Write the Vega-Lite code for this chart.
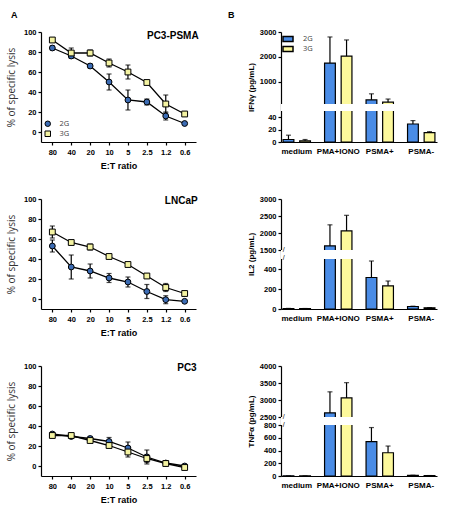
{
  "$schema": "https://vega.github.io/schema/vega-lite/v6.json",
  "background": "white",
  "padding": {"left": 6, "top": 11, "right": 5, "bottom": 5},
  "config": {
    "view": {"stroke": null},
    "font": "Liberation Sans",
    "axis": {
      "grid": false,
      "tickCount": 20,
      "labelOverlap": false,
      "domainColor": "#000",
      "domainWidth": 1.2,
      "tickColor": "#000",
      "tickWidth": 1.2,
      "tickSize": 3,
      "labelFont": "Liberation Sans",
      "labelFontWeight": "bold",
      "labelFontSize": 7.5,
      "labelColor": "#000",
      "titleFont": "Liberation Sans",
      "titleFontWeight": "bold",
      "titleColor": "#000"
    },
    "legend": {
      "title": null,
      "labelFont": "Open Sans",
      "labelFontSize": 8,
      "labelColor": "#444",
      "padding": 0
    },
    "title": {"font": "Liberation Sans", "fontWeight": "bold", "fontSize": 9, "color": "#000"}
  },
  "datasets": {
    "lysis": [
      {"cell": "PC3-PSMA", "et": "80", "g": "2G", "v": 84, "lo": 82, "hi": 86},
      {"cell": "PC3-PSMA", "et": "40", "g": "2G", "v": 76, "lo": 74, "hi": 78},
      {"cell": "PC3-PSMA", "et": "20", "g": "2G", "v": 66, "lo": 64, "hi": 68},
      {"cell": "PC3-PSMA", "et": "10", "g": "2G", "v": 50, "lo": 42, "hi": 58},
      {"cell": "PC3-PSMA", "et": "5", "g": "2G", "v": 32, "lo": 22, "hi": 42},
      {"cell": "PC3-PSMA", "et": "2.5", "g": "2G", "v": 30, "lo": 27, "hi": 33},
      {"cell": "PC3-PSMA", "et": "1.2", "g": "2G", "v": 16, "lo": 12, "hi": 20},
      {"cell": "PC3-PSMA", "et": "0.6", "g": "2G", "v": 8.5, "lo": 7.5, "hi": 9.5},
      {"cell": "PC3-PSMA", "et": "80", "g": "3G", "v": 92, "lo": 90, "hi": 94},
      {"cell": "PC3-PSMA", "et": "40", "g": "3G", "v": 79, "lo": 74, "hi": 84},
      {"cell": "PC3-PSMA", "et": "20", "g": "3G", "v": 79, "lo": 76, "hi": 82},
      {"cell": "PC3-PSMA", "et": "10", "g": "3G", "v": 69, "lo": 65, "hi": 73},
      {"cell": "PC3-PSMA", "et": "5", "g": "3G", "v": 60, "lo": 53, "hi": 67},
      {"cell": "PC3-PSMA", "et": "2.5", "g": "3G", "v": 49.5, "lo": 48.5, "hi": 50.5},
      {"cell": "PC3-PSMA", "et": "1.2", "g": "3G", "v": 28, "lo": 19, "hi": 37},
      {"cell": "PC3-PSMA", "et": "0.6", "g": "3G", "v": 18, "lo": 17, "hi": 19},
      {"cell": "LNCaP", "et": "80", "g": "2G", "v": 53, "lo": 47, "hi": 59},
      {"cell": "LNCaP", "et": "40", "g": "2G", "v": 32, "lo": 20, "hi": 44},
      {"cell": "LNCaP", "et": "20", "g": "2G", "v": 28, "lo": 21, "hi": 35},
      {"cell": "LNCaP", "et": "10", "g": "2G", "v": 21, "lo": 16.5, "hi": 25.5},
      {"cell": "LNCaP", "et": "5", "g": "2G", "v": 17, "lo": 12, "hi": 22},
      {"cell": "LNCaP", "et": "2.5", "g": "2G", "v": 7.5, "lo": 0.5, "hi": 14.5},
      {"cell": "LNCaP", "et": "1.2", "g": "2G", "v": -0.7, "lo": -4.7, "hi": 3.3},
      {"cell": "LNCaP", "et": "0.6", "g": "2G", "v": -2.3, "lo": -3.3, "hi": -1.3},
      {"cell": "LNCaP", "et": "80", "g": "3G", "v": 67, "lo": 61, "hi": 73},
      {"cell": "LNCaP", "et": "40", "g": "3G", "v": 56.5, "lo": 54.5, "hi": 58.5},
      {"cell": "LNCaP", "et": "20", "g": "3G", "v": 52, "lo": 49, "hi": 55},
      {"cell": "LNCaP", "et": "10", "g": "3G", "v": 42.5, "lo": 41, "hi": 44},
      {"cell": "LNCaP", "et": "5", "g": "3G", "v": 34.5, "lo": 33.5, "hi": 35.5},
      {"cell": "LNCaP", "et": "2.5", "g": "3G", "v": 23, "lo": 21, "hi": 25},
      {"cell": "LNCaP", "et": "1.2", "g": "3G", "v": 11.5, "lo": 7.5, "hi": 15.5},
      {"cell": "LNCaP", "et": "0.6", "g": "3G", "v": 5.5, "lo": 4.5, "hi": 6.5},
      {"cell": "PC3", "et": "80", "g": "2G", "v": 32, "lo": 31, "hi": 33},
      {"cell": "PC3", "et": "40", "g": "2G", "v": 29.5, "lo": 28.5, "hi": 30.5},
      {"cell": "PC3", "et": "20", "g": "2G", "v": 27.5, "lo": 25.5, "hi": 29.5},
      {"cell": "PC3", "et": "10", "g": "2G", "v": 24.5, "lo": 20.5, "hi": 28.5},
      {"cell": "PC3", "et": "5", "g": "2G", "v": 18, "lo": 12, "hi": 24},
      {"cell": "PC3", "et": "2.5", "g": "2G", "v": 9, "lo": 2, "hi": 16},
      {"cell": "PC3", "et": "1.2", "g": "2G", "v": 3, "lo": 1, "hi": 5},
      {"cell": "PC3", "et": "0.6", "g": "2G", "v": 0, "lo": -1, "hi": 1},
      {"cell": "PC3", "et": "80", "g": "3G", "v": 30.5, "lo": 29.5, "hi": 31.5},
      {"cell": "PC3", "et": "40", "g": "3G", "v": 30.5, "lo": 29.5, "hi": 31.5},
      {"cell": "PC3", "et": "20", "g": "3G", "v": 25.5, "lo": 24.5, "hi": 26.5},
      {"cell": "PC3", "et": "10", "g": "3G", "v": 20.5, "lo": 18.5, "hi": 22.5},
      {"cell": "PC3", "et": "5", "g": "3G", "v": 14, "lo": 9, "hi": 19},
      {"cell": "PC3", "et": "2.5", "g": "3G", "v": 7.5, "lo": 3.5, "hi": 11.5},
      {"cell": "PC3", "et": "1.2", "g": "3G", "v": 2.5, "lo": 1.5, "hi": 3.5},
      {"cell": "PC3", "et": "0.6", "g": "3G", "v": -1.5, "lo": -2.5, "hi": -0.5}
    ],
    "cyto": [
      {"k": "IFN", "c": "medium", "g": "2G", "v": 4, "hi": 11},
      {"k": "IFN", "c": "medium", "g": "3G", "v": 2, "hi": 4},
      {"k": "IFN", "c": "PMA+IONO", "g": "2G", "v": 1750, "hi": 2800},
      {"k": "IFN", "c": "PMA+IONO", "g": "3G", "v": 2030, "hi": 2680},
      {"k": "IFN", "c": "PSMA+", "g": "2G", "v": 265, "hi": 510},
      {"k": "IFN", "c": "PSMA+", "g": "3G", "v": 175, "hi": 300},
      {"k": "IFN", "c": "PSMA-", "g": "2G", "v": 29, "hi": 34.5},
      {"k": "IFN", "c": "PSMA-", "g": "3G", "v": 15, "hi": 16.7},
      {"k": "IL2", "c": "medium", "g": "2G", "v": 5, "hi": 6},
      {"k": "IL2", "c": "medium", "g": "3G", "v": 4, "hi": 5},
      {"k": "IL2", "c": "PMA+IONO", "g": "2G", "v": 1620, "hi": 2240},
      {"k": "IL2", "c": "PMA+IONO", "g": "3G", "v": 2060, "hi": 2520},
      {"k": "IL2", "c": "PSMA+", "g": "2G", "v": 315, "hi": 480},
      {"k": "IL2", "c": "PSMA+", "g": "3G", "v": 232, "hi": 280},
      {"k": "IL2", "c": "PSMA-", "g": "2G", "v": 25, "hi": 28},
      {"k": "IL2", "c": "PSMA-", "g": "3G", "v": 12, "hi": 14},
      {"k": "TNF", "c": "medium", "g": "2G", "v": 2, "hi": 2},
      {"k": "TNF", "c": "medium", "g": "3G", "v": 2, "hi": 2},
      {"k": "TNF", "c": "PMA+IONO", "g": "2G", "v": 2620, "hi": 3240},
      {"k": "TNF", "c": "PMA+IONO", "g": "3G", "v": 3060, "hi": 3510},
      {"k": "TNF", "c": "PSMA+", "g": "2G", "v": 540, "hi": 760},
      {"k": "TNF", "c": "PSMA+", "g": "3G", "v": 365, "hi": 470},
      {"k": "TNF", "c": "PSMA-", "g": "2G", "v": 10, "hi": 12},
      {"k": "TNF", "c": "PSMA-", "g": "3G", "v": 6, "hi": 7}
    ]
  },
  "columns": 2,
  "bounds": "flush",
  "spacing": {"row": 57, "column": 85},
  "resolve": {
    "scale": {"fill": "independent", "shape": "independent", "xOffset": "independent"},
    "legend": {"fill": "independent", "shape": "independent"}
  },
  "concat": [
    {
      "title": {"text": "A", "anchor": "start", "frame": "group", "dx": -30, "offset": 8},
      "width": 155,
      "height": 110,
      "data": {"name": "lysis"},
      "transform": [{"filter": "datum.cell === 'PC3-PSMA'"}],
      "layer": [
        {
          "mark": {"type": "rule", "color": "#000", "strokeWidth": 1.2},
          "encoding": {
            "x": {"field": "et", "type": "ordinal", "sort": ["80", "40", "20", "10", "5", "2.5", "1.2", "0.6"], "scale": {"type": "point", "padding": 0.6}, "axis": {"title": "E:T ratio", "labelAngle": 0, "labelPadding": 3, "titleFontSize": 9, "titlePadding": 6}},
            "y": {"field": "lo", "type": "quantitative", "scale": {"domain": [-10, 100], "nice": false, "zero": false}, "axis": {"values": [0, 20, 40, 60, 80, 100], "title": "% of specific lysis", "titleFont": "Open Sans", "titleFontWeight": "normal", "titleFontSize": 10, "titleColor": "#333", "titlePadding": 7}},
            "y2": {"field": "hi"},
            "detail": {"field": "g"}
          }
        },
        {
          "mark": {"type": "tick", "orient": "horizontal", "size": 5, "thickness": 1.2, "color": "#000"},
          "encoding": {"x": {"field": "et", "type": "ordinal", "sort": ["80", "40", "20", "10", "5", "2.5", "1.2", "0.6"]}, "y": {"field": "lo", "type": "quantitative"}}
        },
        {
          "mark": {"type": "tick", "orient": "horizontal", "size": 5, "thickness": 1.2, "color": "#000"},
          "encoding": {"x": {"field": "et", "type": "ordinal", "sort": ["80", "40", "20", "10", "5", "2.5", "1.2", "0.6"]}, "y": {"field": "hi", "type": "quantitative"}}
        },
        {
          "mark": {"type": "line", "color": "#000", "strokeWidth": 1.3},
          "encoding": {"x": {"field": "et", "type": "ordinal", "sort": ["80", "40", "20", "10", "5", "2.5", "1.2", "0.6"]}, "y": {"field": "v", "type": "quantitative"}, "detail": {"field": "g"}}
        },
        {
          "mark": {"type": "point", "filled": true, "opacity": 1, "stroke": "#000", "strokeWidth": 1},
          "encoding": {
            "x": {"field": "et", "type": "ordinal", "sort": ["80", "40", "20", "10", "5", "2.5", "1.2", "0.6"]},
            "y": {"field": "v", "type": "quantitative"},
            "fill": {
              "field": "g", "type": "nominal",
              "scale": {"domain": ["2G", "3G"], "range": ["#3c6cb4", "#f4f3a2"]},
              "legend": {
                "orient": "bottom-left", "offset": 3, "symbolSize": 30, "rowPadding": 0, "labelOffset": 8, "labelFontSize": 7.5,
                "symbolStrokeColor": "#000", "symbolStrokeWidth": 1, "symbolOpacity": 1,
                "encode": {"symbols": {"update": {"stroke": {"value": "#000"}, "strokeWidth": {"value": 1}}}}
              }
            },
            "shape": {
              "field": "g", "type": "nominal",
              "scale": {"domain": ["2G", "3G"], "range": ["circle", "square"]},
              "legend": {
                "orient": "bottom-left", "offset": 3, "symbolSize": 30, "rowPadding": 0, "labelOffset": 8, "labelFontSize": 7.5,
                "symbolStrokeColor": "#000", "symbolStrokeWidth": 1, "symbolOpacity": 1,
                "encode": {"symbols": {"update": {"stroke": {"value": "#000"}, "strokeWidth": {"value": 1}}}}
              }
            },
            "size": {"value": 34}
          }
        },
        {
          "data": {"values": [{}]},
          "mark": {"type": "text", "font": "Liberation Sans", "fontWeight": "bold", "fontSize": 10, "align": "right", "baseline": "middle", "dx": 14},
          "encoding": {"x": {"datum": "0.6"}, "y": {"datum": 96}, "text": {"value": "PC3-PSMA"}}
        }
      ]
    },
    {
      "title": {"text": "B", "anchor": "start", "frame": "group", "dx": -53, "offset": 8},
      "width": 156,
      "height": 110,
      "data": {"name": "cyto"},
      "transform": [{"filter": "datum.k === 'IFN'"}],
      "layer": [
        {
          "mark": {"type": "bar", "stroke": "#000", "strokeWidth": 1.2},
          "encoding": {
            "x": {"field": "c", "type": "nominal", "sort": ["medium", "PMA+IONO", "PSMA+", "PSMA-"], "scale": {"paddingInner": 0.34, "paddingOuter": 0.05}, "axis": {"title": null, "labelAngle": 0, "ticks": false, "labelPadding": 5, "labelFontSize": 8}},
            "xOffset": {"field": "g", "type": "nominal", "scale": {"paddingInner": 0.35}},
            "y": {"field": "v", "type": "quantitative", "scale": {"domain": [0, 50, 100, 3000], "range": [110, 79, 72, 0], "nice": false, "zero": false}, "axis": {"values": [0, 20, 40, 1000, 2000, 3000], "format": "d", "title": "IFNγ (pg/mL)", "titleFontSize": 8, "titlePadding": 4}},
            "fill": {
              "field": "g", "type": "nominal",
              "scale": {"domain": ["2G", "3G"], "range": ["#4a8ce6", "#fdf99c"]},
              "legend": {
                "orient": "top-left", "offset": 3, "symbolSize": 36, "rowPadding": -3, "labelOffset": 11, "labelFontSize": 7.5,
                "symbolType": "M-1.67,-0.83H1.67V0.83H-1.67Z",
                "encode": {"symbols": {"update": {"stroke": {"value": "#000"}, "strokeWidth": {"value": 1}, "opacity": {"value": 1}}}}
              }
            }
          }
        },
        {
          "mark": {"type": "rule", "color": "#000", "strokeWidth": 1.2},
          "encoding": {
            "x": {"field": "c", "type": "nominal", "sort": ["medium", "PMA+IONO", "PSMA+", "PSMA-"]},
            "xOffset": {"field": "g", "type": "nominal"},
            "y": {"field": "v", "type": "quantitative"},
            "y2": {"field": "hi"}
          }
        },
        {
          "mark": {"type": "tick", "orient": "horizontal", "size": 5, "thickness": 1.2, "color": "#000"},
          "encoding": {
            "x": {"field": "c", "type": "nominal", "sort": ["medium", "PMA+IONO", "PSMA+", "PSMA-"]},
            "xOffset": {"field": "g", "type": "nominal"},
            "y": {"field": "hi", "type": "quantitative"}
          }
        },
        {
          "data": {"values": [{}]},
          "mark": {"type": "rect", "fill": "white"},
          "encoding": {"y": {"datum": 50}, "y2": {"datum": 100}}
        }
      ]
    },
    {
      "width": 155,
      "height": 110,
      "data": {"name": "lysis"},
      "transform": [{"filter": "datum.cell === 'LNCaP'"}],
      "layer": [
        {
          "mark": {"type": "rule", "color": "#000", "strokeWidth": 1.2},
          "encoding": {
            "x": {"field": "et", "type": "ordinal", "sort": ["80", "40", "20", "10", "5", "2.5", "1.2", "0.6"], "scale": {"type": "point", "padding": 0.6}, "axis": {"title": "E:T ratio", "labelAngle": 0, "labelPadding": 3, "titleFontSize": 9, "titlePadding": 6}},
            "y": {"field": "lo", "type": "quantitative", "scale": {"domain": [-10, 100], "nice": false, "zero": false}, "axis": {"values": [0, 20, 40, 60, 80, 100], "title": "% of specific lysis", "titleFont": "Open Sans", "titleFontWeight": "normal", "titleFontSize": 10, "titleColor": "#333", "titlePadding": 7}},
            "y2": {"field": "hi"},
            "detail": {"field": "g"}
          }
        },
        {
          "mark": {"type": "tick", "orient": "horizontal", "size": 5, "thickness": 1.2, "color": "#000"},
          "encoding": {"x": {"field": "et", "type": "ordinal", "sort": ["80", "40", "20", "10", "5", "2.5", "1.2", "0.6"]}, "y": {"field": "lo", "type": "quantitative"}}
        },
        {
          "mark": {"type": "tick", "orient": "horizontal", "size": 5, "thickness": 1.2, "color": "#000"},
          "encoding": {"x": {"field": "et", "type": "ordinal", "sort": ["80", "40", "20", "10", "5", "2.5", "1.2", "0.6"]}, "y": {"field": "hi", "type": "quantitative"}}
        },
        {
          "mark": {"type": "line", "color": "#000", "strokeWidth": 1.3},
          "encoding": {"x": {"field": "et", "type": "ordinal", "sort": ["80", "40", "20", "10", "5", "2.5", "1.2", "0.6"]}, "y": {"field": "v", "type": "quantitative"}, "detail": {"field": "g"}}
        },
        {
          "mark": {"type": "point", "filled": true, "opacity": 1, "stroke": "#000", "strokeWidth": 1},
          "encoding": {
            "x": {"field": "et", "type": "ordinal", "sort": ["80", "40", "20", "10", "5", "2.5", "1.2", "0.6"]},
            "y": {"field": "v", "type": "quantitative"},
            "fill": {"field": "g", "type": "nominal", "scale": {"domain": ["2G", "3G"], "range": ["#3c6cb4", "#f4f3a2"]}, "legend": null},
            "shape": {"field": "g", "type": "nominal", "scale": {"domain": ["2G", "3G"], "range": ["circle", "square"]}, "legend": null},
            "size": {"value": 34}
          }
        },
        {
          "data": {"values": [{}]},
          "mark": {"type": "text", "font": "Liberation Sans", "fontWeight": "bold", "fontSize": 10, "align": "right", "baseline": "middle", "dx": 13},
          "encoding": {"x": {"datum": "0.6"}, "y": {"datum": 98}, "text": {"value": "LNCaP"}}
        }
      ]
    },
    {
      "width": 156,
      "height": 110,
      "data": {"name": "cyto"},
      "transform": [{"filter": "datum.k === 'IL2'"}],
      "layer": [
        {
          "mark": {"type": "bar", "stroke": "#000", "strokeWidth": 1.2},
          "encoding": {
            "x": {"field": "c", "type": "nominal", "sort": ["medium", "PMA+IONO", "PSMA+", "PSMA-"], "scale": {"paddingInner": 0.34, "paddingOuter": 0.05}, "axis": {"title": null, "labelAngle": 0, "ticks": false, "labelPadding": 5, "labelFontSize": 8}},
            "xOffset": {"field": "g", "type": "nominal", "scale": {"paddingInner": 0.35}},
            "y": {"field": "v", "type": "quantitative", "scale": {"domain": [0, 500, 1500, 3000], "range": [110, 60, 51, 0], "nice": false, "zero": false}, "axis": {"values": [0, 200, 400, 1500, 2000, 2500, 3000], "format": "d", "title": "IL2 (pg/mL)", "titleFontSize": 8, "titlePadding": 4}},
            "fill": {"field": "g", "type": "nominal", "scale": {"domain": ["2G", "3G"], "range": ["#4a8ce6", "#fdf99c"]}, "legend": null}
          }
        },
        {
          "mark": {"type": "rule", "color": "#000", "strokeWidth": 1.2},
          "encoding": {
            "x": {"field": "c", "type": "nominal", "sort": ["medium", "PMA+IONO", "PSMA+", "PSMA-"]},
            "xOffset": {"field": "g", "type": "nominal"},
            "y": {"field": "v", "type": "quantitative"},
            "y2": {"field": "hi"}
          }
        },
        {
          "mark": {"type": "tick", "orient": "horizontal", "size": 5, "thickness": 1.2, "color": "#000"},
          "encoding": {
            "x": {"field": "c", "type": "nominal", "sort": ["medium", "PMA+IONO", "PSMA+", "PSMA-"]},
            "xOffset": {"field": "g", "type": "nominal"},
            "y": {"field": "hi", "type": "quantitative"}
          }
        },
        {
          "data": {"values": [{}]},
          "mark": {"type": "rect", "fill": "white"},
          "encoding": {"y": {"datum": 500}, "y2": {"datum": 1500}}
        },
        {
          "data": {"values": [{"at": 560}, {"at": 1450}]},
          "mark": {"type": "text", "font": "Liberation Sans", "fontSize": 7, "align": "center", "baseline": "middle", "dx": -13},
          "encoding": {"x": {"datum": "medium"}, "y": {"field": "at", "type": "quantitative"}, "text": {"value": "/"}}
        }
      ]
    },
    {
      "width": 155,
      "height": 110,
      "data": {"name": "lysis"},
      "transform": [{"filter": "datum.cell === 'PC3'"}],
      "layer": [
        {
          "mark": {"type": "rule", "color": "#000", "strokeWidth": 1.2},
          "encoding": {
            "x": {"field": "et", "type": "ordinal", "sort": ["80", "40", "20", "10", "5", "2.5", "1.2", "0.6"], "scale": {"type": "point", "padding": 0.6}, "axis": {"title": "E:T ratio", "labelAngle": 0, "labelPadding": 3, "titleFontSize": 9, "titlePadding": 6}},
            "y": {"field": "lo", "type": "quantitative", "scale": {"domain": [-10, 100], "nice": false, "zero": false}, "axis": {"values": [0, 20, 40, 60, 80, 100], "title": "% of specific lysis", "titleFont": "Open Sans", "titleFontWeight": "normal", "titleFontSize": 10, "titleColor": "#333", "titlePadding": 7}},
            "y2": {"field": "hi"},
            "detail": {"field": "g"}
          }
        },
        {
          "mark": {"type": "tick", "orient": "horizontal", "size": 5, "thickness": 1.2, "color": "#000"},
          "encoding": {"x": {"field": "et", "type": "ordinal", "sort": ["80", "40", "20", "10", "5", "2.5", "1.2", "0.6"]}, "y": {"field": "lo", "type": "quantitative"}}
        },
        {
          "mark": {"type": "tick", "orient": "horizontal", "size": 5, "thickness": 1.2, "color": "#000"},
          "encoding": {"x": {"field": "et", "type": "ordinal", "sort": ["80", "40", "20", "10", "5", "2.5", "1.2", "0.6"]}, "y": {"field": "hi", "type": "quantitative"}}
        },
        {
          "mark": {"type": "line", "color": "#000", "strokeWidth": 1.3},
          "encoding": {"x": {"field": "et", "type": "ordinal", "sort": ["80", "40", "20", "10", "5", "2.5", "1.2", "0.6"]}, "y": {"field": "v", "type": "quantitative"}, "detail": {"field": "g"}}
        },
        {
          "mark": {"type": "point", "filled": true, "opacity": 1, "stroke": "#000", "strokeWidth": 1},
          "encoding": {
            "x": {"field": "et", "type": "ordinal", "sort": ["80", "40", "20", "10", "5", "2.5", "1.2", "0.6"]},
            "y": {"field": "v", "type": "quantitative"},
            "fill": {"field": "g", "type": "nominal", "scale": {"domain": ["2G", "3G"], "range": ["#3c6cb4", "#f4f3a2"]}, "legend": null},
            "shape": {"field": "g", "type": "nominal", "scale": {"domain": ["2G", "3G"], "range": ["circle", "square"]}, "legend": null},
            "size": {"value": 34}
          }
        },
        {
          "data": {"values": [{}]},
          "mark": {"type": "text", "font": "Liberation Sans", "fontWeight": "bold", "fontSize": 10, "align": "right", "baseline": "middle", "dx": 12},
          "encoding": {"x": {"datum": "0.6"}, "y": {"datum": 98}, "text": {"value": "PC3"}}
        }
      ]
    },
    {
      "width": 156,
      "height": 110,
      "data": {"name": "cyto"},
      "transform": [{"filter": "datum.k === 'TNF'"}],
      "layer": [
        {
          "mark": {"type": "bar", "stroke": "#000", "strokeWidth": 1.2},
          "encoding": {
            "x": {"field": "c", "type": "nominal", "sort": ["medium", "PMA+IONO", "PSMA+", "PSMA-"], "scale": {"paddingInner": 0.34, "paddingOuter": 0.05}, "axis": {"title": null, "labelAngle": 0, "ticks": false, "labelPadding": 5, "labelFontSize": 8}},
            "xOffset": {"field": "g", "type": "nominal", "scale": {"paddingInner": 0.35}},
            "y": {"field": "v", "type": "quantitative", "scale": {"domain": [0, 800, 2500, 4000], "range": [110, 59, 51, 0], "nice": false, "zero": false}, "axis": {"values": [0, 200, 400, 600, 800, 2500, 3000, 3500, 4000], "format": "d", "title": "TNFα (pg/mL)", "titleFontSize": 8, "titlePadding": 4}},
            "fill": {"field": "g", "type": "nominal", "scale": {"domain": ["2G", "3G"], "range": ["#4a8ce6", "#fdf99c"]}, "legend": null}
          }
        },
        {
          "mark": {"type": "rule", "color": "#000", "strokeWidth": 1.2},
          "encoding": {
            "x": {"field": "c", "type": "nominal", "sort": ["medium", "PMA+IONO", "PSMA+", "PSMA-"]},
            "xOffset": {"field": "g", "type": "nominal"},
            "y": {"field": "v", "type": "quantitative"},
            "y2": {"field": "hi"}
          }
        },
        {
          "mark": {"type": "tick", "orient": "horizontal", "size": 5, "thickness": 1.2, "color": "#000"},
          "encoding": {
            "x": {"field": "c", "type": "nominal", "sort": ["medium", "PMA+IONO", "PSMA+", "PSMA-"]},
            "xOffset": {"field": "g", "type": "nominal"},
            "y": {"field": "hi", "type": "quantitative"}
          }
        },
        {
          "data": {"values": [{}]},
          "mark": {"type": "rect", "fill": "white"},
          "encoding": {"y": {"datum": 800}, "y2": {"datum": 2500}}
        },
        {
          "data": {"values": [{"at": 860}, {"at": 2420}]},
          "mark": {"type": "text", "font": "Liberation Sans", "fontSize": 7, "align": "center", "baseline": "middle", "dx": -13},
          "encoding": {"x": {"datum": "medium"}, "y": {"field": "at", "type": "quantitative"}, "text": {"value": "/"}}
        }
      ]
    }
  ]
}
